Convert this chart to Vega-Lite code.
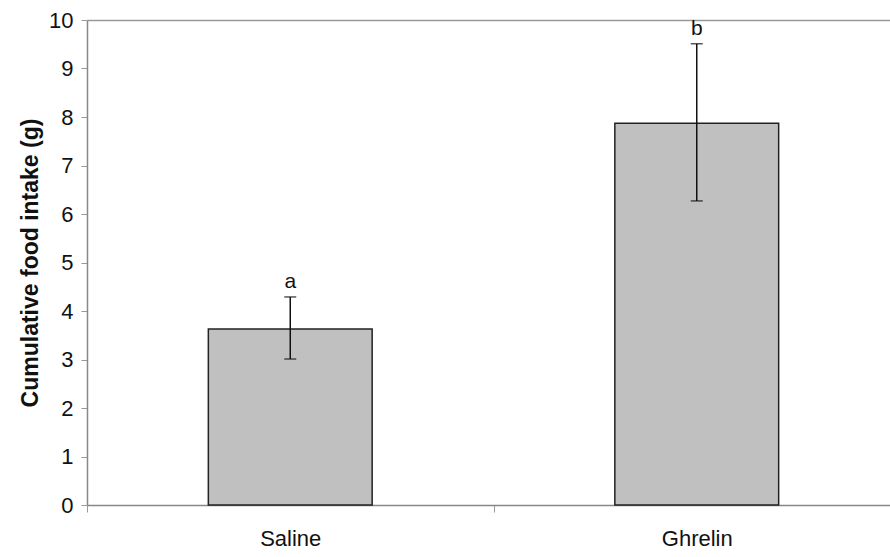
{
  "$schema": "https://vega.github.io/schema/vega-lite/v6.json",
  "autosize": {"type": "none"},
  "width": 803,
  "height": 485,
  "padding": {"left": 87, "top": 20, "right": 0, "bottom": 52},
  "background": "white",
  "config": {
    "font": "Liberation Sans",
    "view": {"stroke": null}
  },
  "data": {
    "values": [
      {"group": "Saline", "mean": 3.63, "lower": 3.01, "upper": 4.29, "letter": "a"},
      {"group": "Ghrelin", "mean": 7.87, "lower": 6.27, "upper": 9.51, "letter": "b"}
    ]
  },
  "encoding": {
    "x": {
      "field": "group",
      "type": "nominal",
      "sort": ["Saline", "Ghrelin"],
      "scale": {"paddingInner": 0, "paddingOuter": 0, "range": [0, 813]},
      "axis": {
        "title": null,
        "labelAngle": 0,
        "labelFont": "Liberation Sans",
        "labelFontSize": 22,
        "labelColor": "#111",
        "labelPadding": 16,
        "tickBand": "extent",
        "tickSize": 7,
        "tickColor": "#999",
        "domainColor": "#888",
        "domainWidth": 1.5,
        "grid": false
      }
    }
  },
  "layer": [
    {
      "mark": {"type": "bar", "width": {"band": 0.403}, "fill": "#c0c0c0", "stroke": "#222", "strokeWidth": 1.5},
      "encoding": {
        "y": {
          "field": "mean",
          "type": "quantitative",
          "title": "Cumulative food intake (g)",
          "scale": {"domain": [0, 10], "nice": false},
          "axis": {
            "title": "Cumulative food intake (g)",
            "titleFont": "Liberation Sans",
            "titleFontSize": 23,
            "titleFontWeight": "bold",
            "titleColor": "#111",
            "titlePadding": 6,
            "values": [0, 1, 2, 3, 4, 5, 6, 7, 8, 9, 10],
            "labelFont": "Liberation Sans",
            "labelFontSize": 22,
            "labelColor": "#111",
            "labelPadding": 8,
            "tickSize": 6,
            "tickColor": "#999",
            "domainColor": "#888",
            "domainWidth": 1.5,
            "grid": true,
            "gridColor": "#999",
            "gridWidth": 1.5,
            "gridOpacity": {"condition": {"test": "datum.value == 10", "value": 1}, "value": 0}
          }
        }
      }
    },
    {
      "mark": {"type": "errorbar", "ticks": {"size": 12, "thickness": 1.5, "color": "#111"}, "rule": {"strokeWidth": 1.5, "color": "#111"}},
      "encoding": {
        "y": {"field": "lower", "type": "quantitative", "title": "Cumulative food intake (g)"},
        "y2": {"field": "upper"}
      }
    },
    {
      "mark": {"type": "text", "font": "Liberation Sans", "fontSize": 21, "color": "#111", "baseline": "alphabetic", "dy": -9},
      "encoding": {
        "y": {"field": "upper", "type": "quantitative", "title": "Cumulative food intake (g)"},
        "text": {"field": "letter"}
      }
    }
  ]
}
